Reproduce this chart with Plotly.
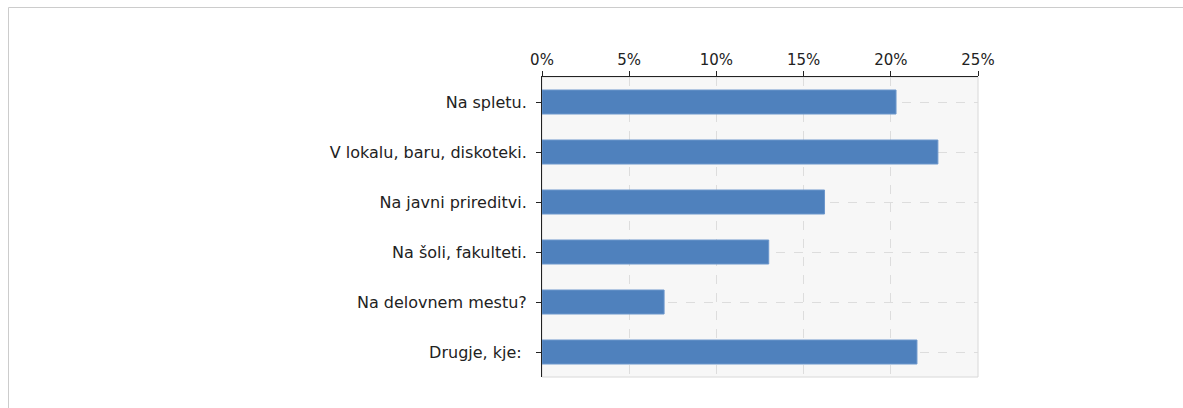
import plotly.graph_objects as go

categories = ["Na spletu.", "V lokalu, baru, diskoteki.", "Na javni prireditvi.",
              "Na šoli, fakulteti.", "Na delovnem mestu?", "Drugje, kje: "]
values = [20.3, 22.7, 16.2, 13.0, 7.0, 21.5]
tick_vals = [0, 5, 10, 15, 20, 25]
tick_text = ["0%", "5%", "10%", "15%", "20%", "25%"]

W, H = 1183, 408
L, R, T, B = 542, 978, 77, 377

fig = go.Figure()
fig.add_trace(go.Bar(
    y=categories, x=values, orientation="h",
    marker=dict(color="#4f81bd", line=dict(color="#6c97cc", width=1)),
    width=0.48, hoverinfo="x+y",
))

pw, ph = R - L, B - T
fig.add_shape(type="rect", xref="paper", yref="paper",
              x0=(8.5 - L) / pw, x1=(W + 20 - L) / pw,
              y0=(B - (H + 20)) / ph, y1=(B - 7.5) / ph,
              line=dict(color="#cccccc", width=1), layer="below")
fig.add_shape(type="rect", xref="paper", yref="paper", x0=0, x1=1, y0=0, y1=1,
              line=dict(color="#d8d8d8", width=1), layer="below")

fig.update_layout(
    width=W, height=H,
    margin=dict(l=L, r=W - R, t=T, b=H - B),
    paper_bgcolor="white", plot_bgcolor="#f7f7f7",
    showlegend=False,
    font=dict(family="DejaVu Sans", size=15, color="#222222"),
    xaxis=dict(side="top", range=[0, 25], tickvals=tick_vals, ticktext=tick_text,
               tickfont=dict(size=15),
               showline=True, linecolor="#222222", linewidth=1,
               ticks="outside", ticklen=5, tickcolor="#222222",
               showgrid=True, gridcolor="#dddddd", griddash="dash", gridwidth=1,
               zeroline=False, fixedrange=True),
    yaxis=dict(autorange="reversed", showline=True, linecolor="#222222", linewidth=1,
               tickfont=dict(size=16),
               ticks="outside", ticklen=5, tickcolor="#222222",
               showgrid=True, gridcolor="#dddddd", griddash="dash", gridwidth=1,
               zeroline=False, fixedrange=True, ticklabelstandoff=6),
)

fig.write_html("out.html", config={"displayModeBar": False},
               post_script="document.body.style.margin='0';document.body.style.overflow='hidden';")
